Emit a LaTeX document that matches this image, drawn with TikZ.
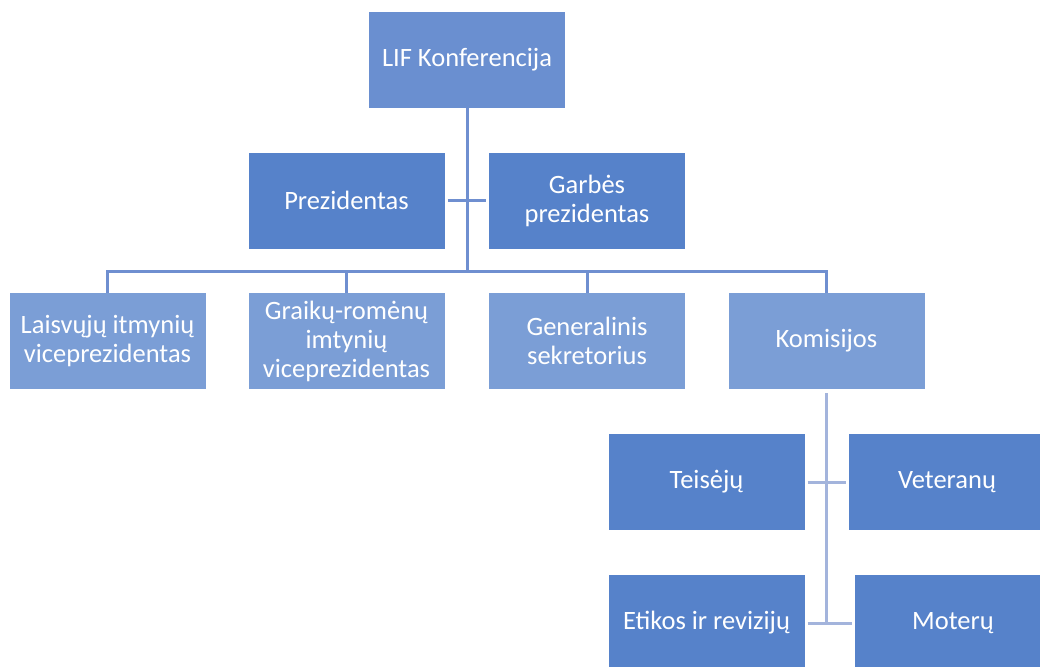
\documentclass[tikz,border=0pt]{standalone}
\usepackage{fontspec}
\setmainfont{Carlito}
\definecolor{topblue}{HTML}{6A8FD0}
\definecolor{darkblue}{HTML}{5682CA}
\definecolor{lightblue}{HTML}{7B9ED6}
\definecolor{linkblue}{HTML}{6F8FD0}
\definecolor{palelink}{HTML}{A3B4DC}
\begin{document}
\begin{tikzpicture}[x=1pt, y=-1pt,
  orgbox/.style={rectangle, minimum width=196pt, minimum height=96pt,
    inner sep=0pt, align=center, text=white,
    font=\fontsize{26.5}{29}\selectfont},
  link/.style={line width=3pt, linkblue},
  sublink/.style={line width=3pt, palelink}]

\useasboundingbox (0,0) rectangle (1040,666);

\node[orgbox, fill=topblue] (t1) at (467,60) {LIF Konferencija};

\node[orgbox, fill=darkblue] (p1) at (346.5,200.5) {Prezidentas};
\node[orgbox, fill=darkblue] (p2) at (587,200.5) {Garbės\\prezidentas};

\node[orgbox, fill=lightblue] (v1) at (107.5,341) {Laisvųjų itmynių\\viceprezidentas};
\node[orgbox, fill=lightblue] (v2) at (346.5,341) {Graikų-romėnų\\imtynių\\viceprezidentas};
\node[orgbox, fill=lightblue] (v3) at (587,341) {Generalinis\\sekretorius};
\node[orgbox, fill=lightblue] (v4) at (826.5,341) {Komisijos};

\node[orgbox, fill=darkblue] (k1) at (706.5,482) {Teisėjų};
\node[orgbox, fill=darkblue] (k2) at (947,482) {Veteranų};
\node[orgbox, fill=darkblue] (k3) at (706.5,623) {Etikos ir revizijų};
\node[orgbox, fill=darkblue] (k4) at (953,623) {Moterų};

% upper tree
\coordinate (bar) at (467,271);
\draw[link] (t1.south) -- (bar);
\draw[link] ([xshift=3pt]p1.east) -- ([xshift=-3pt]p2.west);
\draw[link] (bar) -| (v1.north);
\draw[link] (bar) -| (v2.north);
\draw[link] (bar) -| (v3.north);
\draw[link] (bar) -| (v4.north);

% commissions
\coordinate (kend) at (826.5,623);
\draw[sublink] ([yshift=-4pt]v4.south) -- (kend);
\draw[sublink] ([xshift=3pt]k1.east) -- ([xshift=-3pt]k2.west);
\draw[sublink] ([xshift=3pt]k3.east) -- ([xshift=-3pt]k4.west);

\end{tikzpicture}
\end{document}
